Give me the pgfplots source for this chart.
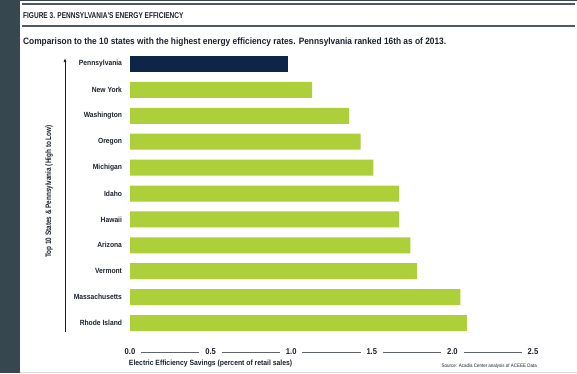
\documentclass[border=0pt]{standalone}
\usepackage{pgfplots}
\pgfplotsset{compat=1.18}
\usetikzlibrary{arrows.meta}
\usepackage{fontspec}
\setmainfont{Liberation Sans}
\newfontfamily\condTitle{Liberation Sans}[FakeStretch=0.77]
\newfontfamily\condSub{Liberation Sans}[FakeStretch=0.90]
\newfontfamily\condLab{Liberation Sans}[FakeStretch=0.90]
\newfontfamily\condY{Liberation Sans}[FakeStretch=0.80]
\definecolor{slate}{HTML}{37474F}
\definecolor{rulegray}{HTML}{4F5A66}
\definecolor{navy}{HTML}{0F2447}
\definecolor{lime}{HTML}{ADCF3A}
\definecolor{ink}{HTML}{1B222D}

% efficiency savings, % of retail sales (row 0 = bottom of chart)
\pgfplotstableread{
row value
0 2.09
1 2.05
2 1.78
3 1.74
4 1.67
5 1.67
6 1.51
7 1.43
8 1.36
9 1.13
}\topten
\pgfplotstableread{
row value
10 0.98
}\penn

\begin{document}
\begin{tikzpicture}[x=1bp,y=1bp]
\useasboundingbox (0,0) rectangle (577,373);
\fill[white] (0,0) rectangle (577,373);
% page frame
\fill[slate] (0,0) rectangle (20,373);
\fill[slate] (0,371.5) rectangle (577,373);
\draw[rulegray, line width=1.2bp] (22,369) -- (575,369);
\draw[rulegray, line width=1.2bp] (22,347) -- (575,347);
\draw[black!15, line width=0.6bp] (20,0.5) -- (577,0.5);
% heading
\node[anchor=base west, inner sep=0, text=ink] at (23,355)
  {\condTitle\bfseries\fontsize{8.5}{10}\selectfont FIGURE 3. PENNSYLVANIA'S ENERGY EFFICIENCY};
\node[anchor=base west, inner sep=0, text=ink] at (23,329)
  {\condSub\bfseries\fontsize{9.3}{11}\selectfont Comparison to the 10 states with the highest energy efficiency rates. Pennsylvania ranked 16th as of 2013.};

\begin{axis}[
  at={(130bp,37.05bp)}, anchor=south west,
  scale only axis, width=403bp, height=284.9bp,
  xbar, bar width=16bp, bar shift=0pt,
  xmin=0, xmax=2.5, ymin=-0.5, ymax=10.5,
  axis line style={draw=none},
  major tick length=0pt,
  clip=false,
  xtick={0,0.5,1,1.5,2,2.5},
  xticklabels={0.0,0.5,1.0,1.5,2.0,2.5},
  xticklabel style={anchor=center, yshift=-16bp, text=ink,
    font=\condLab\bfseries\fontsize{8.5}{10}\selectfont},
  ytick={0,...,10},
  yticklabels={Rhode Island,Massachusetts,Vermont,Arizona,Hawaii,Idaho,Michigan,Oregon,Washington,New York,Pennsylvania},
  yticklabel style={anchor=east, xshift=-4.5bp, text=ink,
    font=\condLab\bfseries\fontsize{7.5}{9}\selectfont},
  xlabel={Electric Efficiency Savings (percent of retail sales)},
  xlabel style={at={(rel axis cs:0.2,-0.0985)}, anchor=center, text=ink,
    font=\condLab\bfseries\fontsize{7.6}{9}\selectfont},
  ylabel={Top 10 States \& Pennsylvania (High to Low)},
  ylabel style={at={(rel axis cs:-0.201,0.507)}, anchor=center, text=ink,
    font=\condY\bfseries\fontsize{8}{9}\selectfont},
]
\addplot[fill=lime, draw=none] table[x=value, y=row] {\topten};
\addplot[fill=navy, draw=none] table[x=value, y=row] {\penn};
% vertical arrow for the ranking axis
\draw[ink, line width=0.7bp, -{Latex[length=4bp,width=3bp]}] (axis cs:-0.403,-0.34) -- (axis cs:-0.403,10.23);
% x axis rule broken by the tick labels
\draw[ink!70, line width=0.6bp] (axis cs:0.07,-1.12) -- (axis cs:0.43,-1.12);
\draw[ink!70, line width=0.6bp] (axis cs:0.57,-1.12) -- (axis cs:0.93,-1.12);
\draw[ink!70, line width=0.6bp] (axis cs:1.07,-1.12) -- (axis cs:1.43,-1.12);
\draw[ink!70, line width=0.6bp] (axis cs:1.57,-1.12) -- (axis cs:1.93,-1.12);
\draw[ink!70, line width=0.6bp] (axis cs:2.07,-1.12) -- (axis cs:2.43,-1.12);
\node[anchor=east, inner sep=0, text=ink, font=\condLab\fontsize{5}{6}\selectfont]
  at (rel axis cs:1.01,-0.1055) {Source: Acadia Center analysis of ACEEE Data};
\end{axis}
\end{tikzpicture}
\end{document}
